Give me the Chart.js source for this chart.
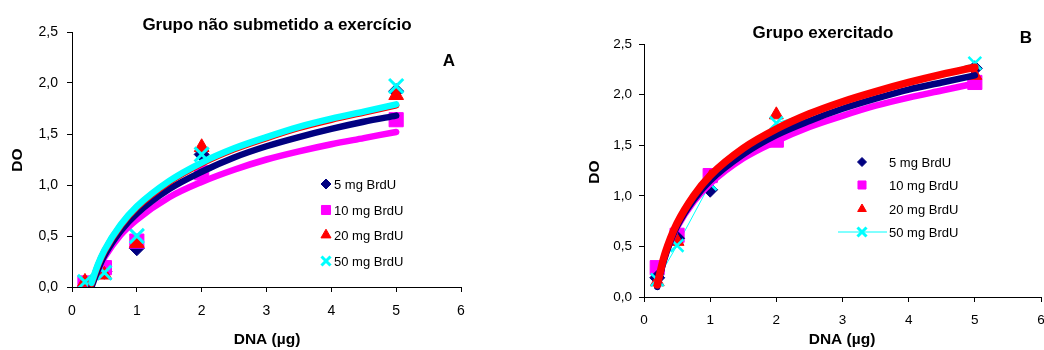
<!DOCTYPE html>
<html>
<head>
<meta charset="utf-8">
<script src="https://cdn.jsdelivr.net/npm/chart.js@4/dist/chart.umd.min.js"></script>
<style>
    html, body { margin: 0; padding: 0; background: #fff; }
    .panel { position: absolute; top: 0; }
    #panelA { left: 0; }
    #panelB { left: 520px; }
</style>
</head>
<body>
<div class="panel" id="panelA"><canvas id="chartA" width="520" height="350"></canvas></div>
<div class="panel" id="panelB"><canvas id="chartB" width="524" height="350"></canvas></div>
<script>
// DNA amounts (µg) where OD was measured
const doseX = [0.2, 0.5, 1, 2, 5];
const seriesNames = ['5 mg BrdU', '10 mg BrdU', '20 mg BrdU', '50 mg BrdU'];
const yTicks = [0, 0.5, 1, 1.5, 2, 2.5];

// Panel A - Grupo não submetido a exercício
const a5 = [0.00, 0.15, 0.38, 1.30, 1.92];
const a10 = [0.04, 0.19, 0.45, 1.12, 1.64];
const a20 = [0.05, 0.12, 0.43, 1.37, 1.88];
const a50 = [0.05, 0.14, 0.50, 1.30, 1.97];

// trend curves of panel A
const trendXA = [0.3, 0.4, 0.5, 0.75, 1, 1.5, 2, 2.5, 3, 3.5, 4, 4.5, 5];
const trendA5 = [0.00, 0.17, 0.31, 0.55, 0.72, 0.96, 1.13, 1.27, 1.38, 1.47, 1.55, 1.62, 1.68];
const trendA10 = [0.02, 0.17, 0.29, 0.51, 0.66, 0.88, 1.03, 1.15, 1.25, 1.33, 1.40, 1.46, 1.52];
const trendA20 = [0.03, 0.21, 0.35, 0.60, 0.78, 1.03, 1.21, 1.35, 1.46, 1.56, 1.64, 1.71, 1.78];
const trendA50 = [0.04, 0.22, 0.36, 0.61, 0.79, 1.04, 1.22, 1.36, 1.47, 1.57, 1.65, 1.72, 1.79];

// Panel B - Grupo exercitado
const b5 = [0.19, 0.58, 1.06, 1.62, 2.26];
const b10 = [0.29, 0.61, 1.20, 1.55, 2.12];
const b20 = [0.15, 0.55, 1.18, 1.80, 2.19];
const b50 = [0.17, 0.51, 1.12, 1.72, 2.31];

const trendXB = [0.2, 0.3, 0.4, 0.5, 0.75, 1, 1.5, 2, 2.5, 3, 3.5, 4, 4.5, 5];
const trendB5 = [0.10, 0.36, 0.55, 0.70, 0.96, 1.15, 1.41, 1.60, 1.74, 1.86, 1.96, 2.05, 2.12, 2.19];
const trendB10 = [0.12, 0.37, 0.55, 0.69, 0.94, 1.12, 1.37, 1.54, 1.68, 1.79, 1.89, 1.97, 2.04, 2.11];
const trendB20 = [0.12, 0.39, 0.58, 0.73, 1.00, 1.20, 1.47, 1.66, 1.81, 1.93, 2.03, 2.12, 2.20, 2.27];

const NAVY = '#000080';
const MAGENTA = '#ff00ff';
const RED = '#ff0000';
const CYAN = '#00ffff';
const FONT = '"Liberation Sans", Arial, sans-serif';

function toXY(xs, ys) {
    return xs.map((x, i) => ({ x: x, y: ys[i] }));
}

function trend(xs, ys, color, width, order) {
    return {
        data: toXY(xs, ys),
        showLine: true,
        borderColor: color,
        borderWidth: width,
        borderCapStyle: 'round',
        cubicInterpolationMode: 'monotone',
        pointRadius: 0,
        order: order
    };
}

function markers(ys, color, style, radius, border, order) {
    return {
        data: toXY(doseX, ys),
        showLine: false,
        pointStyle: style,
        pointRadius: radius,
        pointBackgroundColor: color,
        pointBorderColor: color,
        pointBorderWidth: border,
        order: order
    };
}

function drawMarker(ctx, style, radius, border, color, x, y) {
    ctx.save();
    ctx.fillStyle = color;
    ctx.strokeStyle = color;
    ctx.lineWidth = border;
    if (Chart.helpers && Chart.helpers.drawPoint) {
        Chart.helpers.drawPoint(ctx, { pointStyle: style, radius: radius, rotation: 0, borderWidth: border }, x, y);
    }
    ctx.restore();
}

// Titles, panel letter, axis titles and the legend box
function labelsPlugin(opts) {
    return {
        id: 'labels',
        afterDraw(chart) {
            const ctx = chart.ctx;
            ctx.save();
            ctx.fillStyle = '#000';
            ctx.textBaseline = 'middle';
            ctx.textAlign = 'center';
            ctx.font = 'bold 17px ' + FONT;
            ctx.fillText(opts.title, opts.titlePos[0], opts.titlePos[1]);
            ctx.fillText(opts.letter, opts.letterPos[0], opts.letterPos[1]);
            ctx.font = 'bold 15.5px ' + FONT;
            ctx.fillText('DNA (µg)', opts.xTitlePos[0], opts.xTitlePos[1]);
            ctx.save();
            ctx.translate(opts.yTitlePos[0], opts.yTitlePos[1]);
            ctx.rotate(-Math.PI / 2);
            ctx.font = 'bold 15.5px ' + FONT;
            ctx.fillText('DO', 0, 0);
            ctx.restore();

            const lg = opts.legend;
            ctx.font = '13px ' + FONT;
            ctx.textAlign = 'left';
            seriesNames.forEach((name, i) => {
                const y = lg.rows[i];
                const m = lg.marks[i];
                if (lg.line && i === 3) {
                    ctx.strokeStyle = CYAN;
                    ctx.lineWidth = 1;
                    ctx.beginPath();
                    ctx.moveTo(lg.line[0], y);
                    ctx.lineTo(lg.line[1], y);
                    ctx.stroke();
                }
                drawMarker(ctx, m[0], m[1], m[2], m[3], lg.markX, y);
                ctx.fillStyle = '#000';
                ctx.fillText(name, lg.textX, y + 1);
            });
            ctx.restore();
        }
    };
}

function makeChart(canvasId, datasets, layout, labelOpts) {
    const ctx = document.getElementById(canvasId).getContext('2d');
    return new Chart(ctx, {
        type: 'scatter',
        data: { datasets: datasets },
        options: {
            responsive: false,
            animation: false,
            events: [],
            layout: { padding: layout.padding, autoPadding: false },
            plugins: {
                legend: { display: false },
                tooltip: { enabled: false },
                title: { display: false }
            },
            scales: {
                x: {
                    type: 'linear',
                    min: 0,
                    max: 6,
                    afterFit: (scale) => {
                        scale.height = layout.xHeight;
                        // let the end labels run past the plot edge, as in the original
                        scale.paddingLeft = 0;
                        scale.paddingRight = 0;
                    },
                    border: { color: '#000', width: 1 },
                    grid: { drawOnChartArea: false, drawTicks: true, tickLength: 5, tickColor: '#000' },
                    ticks: {
                        stepSize: 1,
                        color: '#000',
                        padding: layout.xPad,
                        font: { family: FONT, size: layout.tickSize },
                        maxRotation: 0
                    }
                },
                y: {
                    type: 'linear',
                    min: 0,
                    max: 2.5,
                    afterFit: (scale) => { scale.width = layout.yWidth; },
                    afterBuildTicks: (scale) => { scale.ticks = yTicks.map(v => ({ value: v })); },
                    border: { color: '#000', width: 1 },
                    grid: { drawOnChartArea: false, drawTicks: true, tickLength: 5, tickColor: '#000' },
                    ticks: {
                        color: '#000',
                        padding: layout.yPad,
                        font: { family: FONT, size: layout.tickSize },
                        callback: (v) => Number(v).toFixed(1).replace('.', ',')
                    }
                }
            }
        },
        plugins: [labelsPlugin(labelOpts)]
    });
}

// Panel A
makeChart('chartA', [
    trend(trendXA, trendA50, CYAN, 6.5, 0),
    trend(trendXA, trendA20, RED, 6.5, 1),
    trend(trendXA, trendA5, NAVY, 6.5, 2),
    trend(trendXA, trendA10, MAGENTA, 6.5, 3),
    markers(a50, CYAN, 'crossRot', 10, 3, 4),
    markers(a20, RED, 'triangle', 8.5, 1, 5),
    markers(a10, MAGENTA, 'rect', 10, 1, 6),
    markers(a5, NAVY, 'rectRot', 7.5, 1, 7)
], {
    padding: { top: 32, right: 59, bottom: 0, left: 0 },
    yWidth: 72, xHeight: 63, xPad: 11, yPad: 9, tickSize: 14
}, {
    title: 'Grupo não submetido a exercício', titlePos: [277, 25],
    letter: 'A', letterPos: [449, 61],
    xTitlePos: [267, 340], yTitlePos: [18, 160],
    legend: {
        rows: [184, 210, 235, 261], markX: 326, textX: 334,
        marks: [['rectRot', 5, 1, NAVY], ['rect', 6.4, 1, MAGENTA], ['triangle', 5.8, 1, RED], ['crossRot', 6.4, 3, CYAN]]
    }
});

// Panel B
makeChart('chartB', [
    trend(trendXB, trendB20, RED, 7.5, 0),
    trend(trendXB, trendB5, NAVY, 6.5, 1),
    trend(trendXB, trendB10, MAGENTA, 6.5, 2),
    markers(b50, CYAN, 'crossRot', 9, 2.5, 3),
    markers(b20, RED, 'triangle', 8, 1, 4),
    markers(b5, NAVY, 'rectRot', 7.5, 1, 5),
    markers(b10, MAGENTA, 'rect', 10, 1, 6),
    Object.assign(trend(doseX, b50, CYAN, 1, 7), { cubicInterpolationMode: 'default', tension: 0 })
], {
    padding: { top: 44, right: 3, bottom: 0, left: 0 },
    yWidth: 124, xHeight: 53, xPad: 10, yPad: 7, tickSize: 13.5
}, {
    title: 'Grupo exercitado', titlePos: [303, 33],
    letter: 'B', letterPos: [506, 38],
    xTitlePos: [322, 340], yTitlePos: [75, 172],
    legend: {
        rows: [162, 185, 209, 232], markX: 342, textX: 369, line: [318, 367],
        marks: [['rectRot', 4.5, 1, NAVY], ['rect', 5.7, 1, MAGENTA], ['triangle', 5, 1, RED], ['crossRot', 6.4, 3, CYAN]]
    }
});
</script>
</body>
</html>
